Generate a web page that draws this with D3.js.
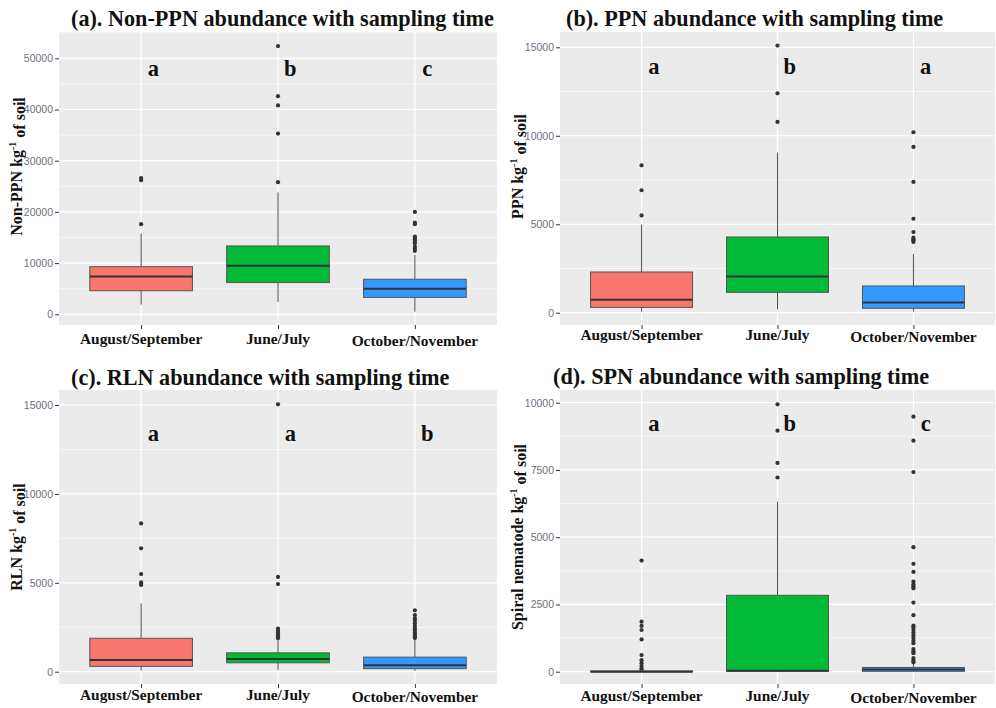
<!DOCTYPE html>
<html>
<head>
<meta charset="utf-8">
<script src="https://cdn.jsdelivr.net/npm/d3@7"></script>
<style>
  html, body { margin: 0; padding: 0; background: #ffffff; }
  svg { display: block; }
</style>
</head>
<body>
<svg id="chart" width="996" height="708"></svg>
<script>
// ---------------- DATA ----------------
const categories = ["August/September", "June/July", "October/November"];
const fillColors = ["#F8766D", "#00BA38", "#3399FF"];

// (a) Non-PPN
const nonPPN_lower  = [1900, 2400, 500];
const nonPPN_q1     = [4600, 6200, 3300];
const nonPPN_median = [7400, 9500, 5000];
const nonPPN_q3     = [9300, 13350, 6850];
const nonPPN_upper  = [15800, 23800, 11600];
const nonPPN_outliers = [
  [17600, 26200, 26600],
  [25800, 35300, 40800, 42600, 52400],
  [12400, 12800, 13200, 13900, 14300, 14600, 14900, 15200, 17600, 17900, 20000]
];
const nonPPN_letters = ["a", "b", "c"];
const nonPPN_ticks = [0, 10000, 20000, 30000, 40000, 50000];

// (b) PPN
const ppn_lower  = [60, 190, 60];
const ppn_q1     = [300, 1150, 250];
const ppn_median = [730, 2050, 570];
const ppn_q3     = [2300, 4280, 1510];
const ppn_upper  = [4970, 9050, 3320];
const ppn_outliers = [
  [5500, 6920, 8330],
  [10780, 12400, 15100],
  [4000, 4080, 4150, 4240, 4560, 5310, 7390, 9370, 10200]
];
const ppn_letters = ["a", "b", "a"];
const ppn_ticks = [0, 5000, 10000, 15000];

// (c) RLN
const rln_lower  = [80, 100, 40];
const rln_q1     = [300, 500, 170];
const rln_median = [660, 720, 360];
const rln_q3     = [1880, 1060, 820];
const rln_upper  = [3840, 1800, 1780];
const rln_outliers = [
  [4880, 4950, 5020, 5490, 6940, 8340],
  [1880, 1980, 2080, 2200, 2300, 2420, 4930, 5330, 15040],
  [1890, 1980, 2080, 2200, 2330, 2450, 2580, 2720, 2870, 3010, 3190, 3450]
];
const rln_letters = ["a", "a", "b"];
const rln_ticks = [0, 5000, 10000, 15000];

// (d) SPN
const spn_lower  = [0, 0, 0];
const spn_q1     = [0, 20, 15];
const spn_median = [0, 40, 85];
const spn_q3     = [30, 2840, 160];
const spn_upper  = [40, 6320, 320];
const spn_outliers = [
  [60, 120, 210, 310, 430, 620, 1200, 1550, 1700, 1860, 4130],
  [7220, 7760, 8960, 9940],
  [350, 420, 510, 690, 760, 840, 1060, 1150, 1250, 1350, 1450, 1550, 1650, 1710,
   2100, 2570, 3100, 3180, 3250, 3350, 3710, 4010, 4630, 7420, 8590, 9480]
];
const spn_letters = ["a", "b", "c"];
const spn_ticks = [0, 2500, 5000, 7500, 10000];

// ---------------- PANELS (layout) ----------------
const panels = [
  { title: "(a). Non-PPN abundance with sampling time", yMain: "Non-PPN kg", ySup: "-1", yEnd: " of soil",
    lower: nonPPN_lower, q1: nonPPN_q1, median: nonPPN_median, q3: nonPPN_q3, upper: nonPPN_upper,
    outliers: nonPPN_outliers, letters: nonPPN_letters, letterY: 48000, ticks: nonPPN_ticks,
    domain: [-2090, 55140], rect: { x: 59, y: 32, w: 438, h: 293 },
    titleX: 71, titleY: 26, yTitleX: 16, xLabY: 344 },
  { title: "(b). PPN abundance with sampling time", yMain: "PPN kg", ySup: "-1", yEnd: " of soil",
    lower: ppn_lower, q1: ppn_q1, median: ppn_median, q3: ppn_q3, upper: ppn_upper,
    outliers: ppn_outliers, letters: ppn_letters, letterY: 13900, ticks: ppn_ticks,
    domain: [-695, 15865], rect: { x: 560, y: 32, w: 435, h: 293 },
    titleX: 566, titleY: 26, yTitleX: 517, xLabY: 340 },
  { title: "(c). RLN abundance with sampling time", yMain: "RLN kg", ySup: "-1", yEnd: " of soil",
    lower: rln_lower, q1: rln_q1, median: rln_median, q3: rln_q3, upper: rln_upper,
    outliers: rln_outliers, letters: rln_letters, letterY: 13400, ticks: rln_ticks,
    domain: [-692, 15844], rect: { x: 59, y: 390, w: 438, h: 294 },
    titleX: 71, titleY: 385, yTitleX: 16, xLabY: 700 },
  { title: "(d). SPN abundance with sampling time", yMain: "Spiral nematode kg", ySup: "-1", yEnd: " of soil",
    lower: spn_lower, q1: spn_q1, median: spn_median, q3: spn_q3, upper: spn_upper,
    outliers: spn_outliers, letters: spn_letters, letterY: 9200, ticks: spn_ticks,
    domain: [-457, 10472], rect: { x: 560, y: 390, w: 435, h: 294 },
    titleX: 553, titleY: 384, yTitleX: 517, xLabY: 701 }
];

const svg = d3.select("#chart");
const SERIF = "'Liberation Serif', 'Times New Roman', serif";
const SANS = "'Liberation Sans', Arial, sans-serif";

panels.forEach(p => {
  const r = p.rect;
  const g = svg.append("g");

  const x = d3.scalePoint().domain(categories).range([r.x, r.x + r.w]).padding(0.6);
  const y = d3.scaleLinear().domain(p.domain).range([r.y + r.h, r.y]);
  const step = x.step();
  const boxW = step * 0.75;

  // panel background
  g.append("rect").attr("x", r.x).attr("y", r.y).attr("width", r.w).attr("height", r.h)
    .attr("fill", "#EBEBEB");

  // minor gridlines
  const t = p.ticks;
  const minor = [];
  const dt = t[1] - t[0];
  for (let i = -1; i < t.length; i++) {
    const v = (i < 0 ? t[0] - dt : t[i]) + dt / 2;
    if (y(v) >= r.y && y(v) <= r.y + r.h) minor.push(v);
  }
  g.selectAll(".minor").data(minor).join("line")
    .attr("x1", r.x).attr("x2", r.x + r.w)
    .attr("y1", d => y(d)).attr("y2", d => y(d))
    .attr("stroke", "#ffffff").attr("stroke-width", 0.6);

  // major gridlines
  g.selectAll(".majorY").data(t).join("line")
    .attr("x1", r.x).attr("x2", r.x + r.w)
    .attr("y1", d => y(d)).attr("y2", d => y(d))
    .attr("stroke", "#ffffff").attr("stroke-width", 1.2);
  g.selectAll(".majorX").data(categories).join("line")
    .attr("x1", d => x(d)).attr("x2", d => x(d))
    .attr("y1", r.y).attr("y2", r.y + r.h)
    .attr("stroke", "#ffffff").attr("stroke-width", 1.2);

  // y axis
  const yAxis = d3.axisLeft(y).tickValues(t).tickSize(4).tickPadding(2).tickFormat(d3.format("d"));
  const ya = g.append("g").attr("transform", `translate(${r.x},0)`).call(yAxis);
  ya.select(".domain").remove();
  ya.selectAll(".tick line").attr("stroke", "#333333").attr("stroke-width", 1);
  ya.selectAll(".tick text").attr("fill", "#70707f").attr("font-family", SANS).attr("font-size", 10.5);

  // x axis
  const xAxis = d3.axisBottom(x).tickSize(4).tickFormat("");
  const xa = g.append("g").attr("transform", `translate(0,${r.y + r.h})`).call(xAxis);
  xa.select(".domain").remove();
  xa.selectAll(".tick line").attr("stroke", "#333333").attr("stroke-width", 1);

  g.selectAll(".xlab").data(categories).join("text")
    .attr("x", d => x(d))
    .attr("y", (d, i) => p.xLabY + (i === 2 ? 2 : 0))
    .attr("text-anchor", "middle")
    .attr("font-family", SERIF).attr("font-weight", "bold").attr("font-size", 15.4)
    .attr("fill", "#111111")
    .text(d => d);

  // boxes
  categories.forEach((c, i) => {
    const cx = x(c);
    const bg = g.append("g");
    // whiskers
    bg.append("line").attr("x1", cx).attr("x2", cx)
      .attr("y1", y(p.q3[i])).attr("y2", y(p.upper[i]))
      .attr("stroke", "#4d4d4d").attr("stroke-width", 1);
    bg.append("line").attr("x1", cx).attr("x2", cx)
      .attr("y1", y(p.q1[i])).attr("y2", y(p.lower[i]))
      .attr("stroke", "#4d4d4d").attr("stroke-width", 1);
    // outliers
    bg.selectAll("circle").data(p.outliers[i]).join("circle")
      .attr("cx", cx).attr("cy", d => y(d)).attr("r", 2.1)
      .attr("fill", "#333333");
    // box
    bg.append("rect")
      .attr("x", cx - boxW / 2).attr("width", boxW)
      .attr("y", y(p.q3[i])).attr("height", Math.max(0.5, y(p.q1[i]) - y(p.q3[i])))
      .attr("fill", fillColors[i]).attr("stroke", "#555555").attr("stroke-width", 1);
    // median
    bg.append("line")
      .attr("x1", cx - boxW / 2).attr("x2", cx + boxW / 2)
      .attr("y1", y(p.median[i])).attr("y2", y(p.median[i]))
      .attr("stroke", "#333333").attr("stroke-width", 2);
  });

  // significance letters
  g.selectAll(".letter").data(p.letters).join("text")
    .attr("x", (d, i) => x(categories[i]) + step * 0.09)
    .attr("y", y(p.letterY))
    .attr("dy", "0.32em")
    .attr("text-anchor", "middle")
    .attr("font-family", SERIF).attr("font-weight", "bold").attr("font-size", 22.5)
    .attr("fill", "#111111")
    .text(d => d);

  // title
  g.append("text").attr("x", p.titleX).attr("y", p.titleY)
    .attr("font-family", SERIF).attr("font-weight", "bold").attr("font-size", 22.2)
    .attr("fill", "#111111")
    .text(p.title);

  // y title
  const yt = g.append("text")
    .attr("transform", `translate(${p.yTitleX},${r.y + r.h / 2 + (r.y > 100 ? 0 : -12)}) rotate(-90)`)
    .attr("dy", "0.35em")
    .attr("text-anchor", "middle")
    .attr("font-family", SERIF).attr("font-weight", "bold").attr("font-size", 16)
    .attr("fill", "#111111");
  yt.append("tspan").text(p.yMain);
  yt.append("tspan").attr("font-size", 10).attr("dy", "-0.6em").text(p.ySup);
  yt.append("tspan").attr("dy", "0.6em").text(p.yEnd);
});
</script>
</body>
</html>
